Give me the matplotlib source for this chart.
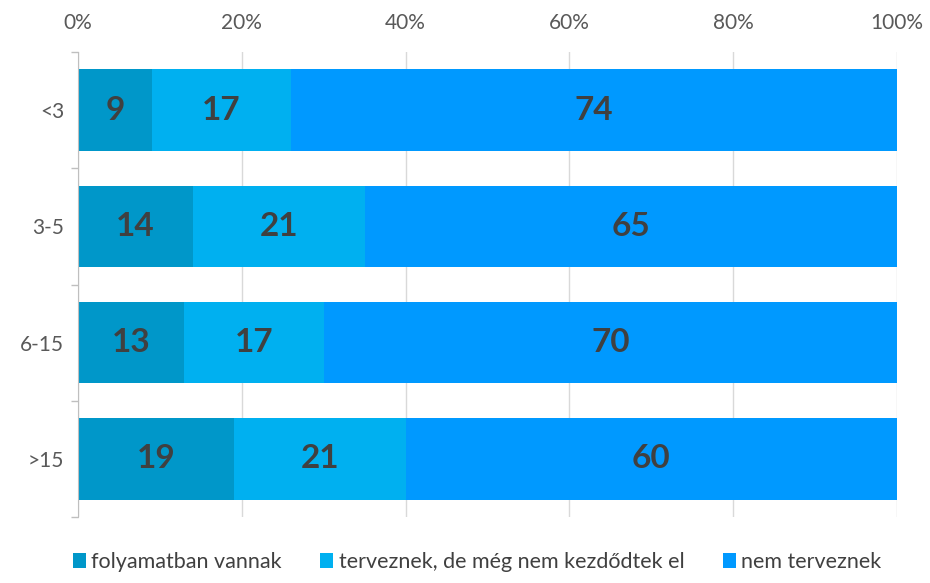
import matplotlib.pyplot as plt
from matplotlib.ticker import PercentFormatter, FixedLocator

kategoriak = ['<3', '3-5', '6-15', '>15']
folyamatban = [9, 14, 13, 19]
terveznek = [17, 21, 17, 21]
nem_terveznek = [74, 65, 70, 60]
sorozatok = ['folyamatban vannak', 'terveznek, de még nem kezdődtek el', 'nem terveznek']
szinek = ['#0097C9', '#00B0F0', '#0099FF']

plt.rcParams['font.family'] = ['Lato', 'DejaVu Sans']

fig = plt.figure(figsize=(9.3, 5.83), dpi=100)
ax = fig.add_axes([0.0839, 0.1132, 0.8806, 0.7976])

y = range(len(kategoriak))
bal = [0] * len(kategoriak)
for nev, ertekek, szin in zip(sorozatok, [folyamatban, terveznek, nem_terveznek], szinek):
    bars = ax.barh(y, ertekek, left=bal, height=0.7, color=szin, label=nev, zorder=2)
    ax.bar_label(bars, labels=[str(v) for v in ertekek], label_type='center',
                 fontsize=24, fontweight='bold', color='#404040')
    bal = [b + v for b, v in zip(bal, ertekek)]

ax.set_xlim(0, 100)
ax.set_ylim(3.5, -0.5)
ax.xaxis.set_major_formatter(PercentFormatter(decimals=0))
ax.set_xticks(range(0, 101, 20))
ax.xaxis.tick_top()
ax.tick_params(axis='x', length=0, labelsize=15, labelcolor='#595959', pad=14)
ax.set_yticks(list(y))
ax.set_yticklabels(kategoriak)
ax.tick_params(axis='y', which='major', length=0, labelsize=15, labelcolor='#595959', pad=10)
ax.yaxis.set_minor_locator(FixedLocator([-0.5, 0.5, 1.5, 2.5, 3.5]))
ax.tick_params(axis='y', which='minor', length=5, color='#BFBFBF', width=1)
ax.grid(axis='x', color='#D9D9D9', linewidth=1, zorder=0)
for s in ['top', 'right', 'bottom']:
    ax.spines[s].set_visible(False)
ax.spines['left'].set_color('#BFBFBF')

fig.legend(loc='lower center', bbox_to_anchor=(0.513, -0.015), ncol=3, frameon=False,
           fontsize=15.5, handlelength=0.6, handleheight=0.7, handletextpad=0.25,
           columnspacing=1.8, labelcolor='#404040')

fig.savefig('out.png', dpi=100)
